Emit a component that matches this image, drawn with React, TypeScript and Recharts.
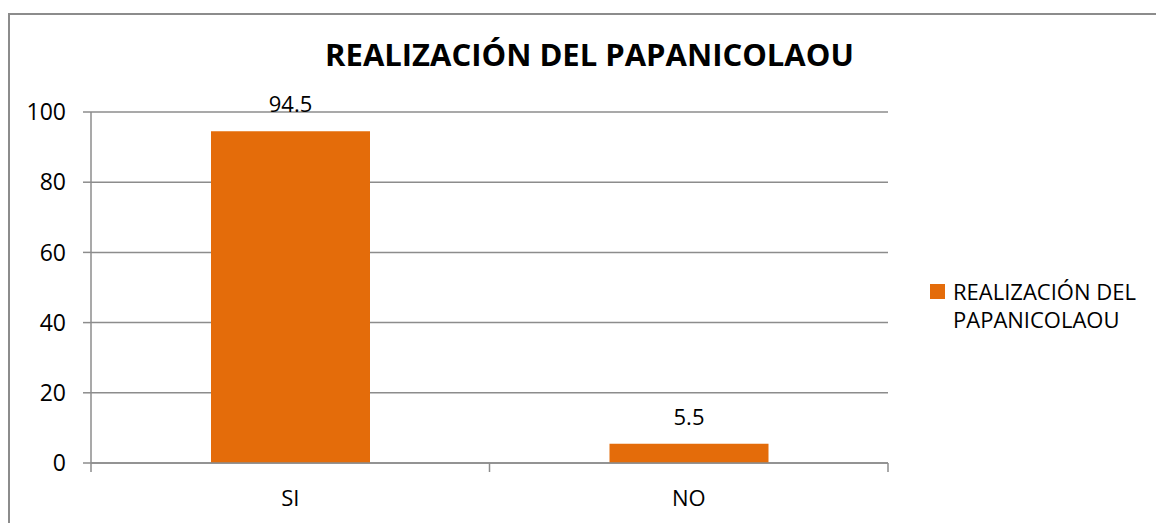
import React from 'react';
import { BarChart, Bar, XAxis, YAxis, CartesianGrid, LabelList } from 'recharts';

const categories = ['SI', 'NO'];
const values = [94.5, 5.5];
const yTicks = [0, 20, 40, 60, 80, 100];
const seriesName = 'REALIZACIÓN DEL PAPANICOLAOU';
const legendLines = ['REALIZACIÓN DEL', 'PAPANICOLAOU'];

const data = categories.map((name, i) => ({ name, value: values[i] }));

const FONT = '"Open Sans", "Liberation Sans", sans-serif';
const ORANGE = '#E46C0A';
const GRAY = '#8c8c8c';
const X_TICK_SIZE = 9;
const X_TICK_MARGIN = 14;

// category ticks: label in the middle, tick marks on the band edges (like Excel)
const XTick = (props: any) => {
  const { x, y, payload, index, visibleTicksCount } = props;
  const off = payload?.offset ?? 0;
  const axisY = y - X_TICK_SIZE - X_TICK_MARGIN;
  const isLast = index === visibleTicksCount - 1;
  return (
    <g>
      <line x1={x - off} x2={x - off} y1={axisY} y2={axisY + X_TICK_SIZE} stroke={GRAY} strokeWidth={1.5} />
      {isLast && (
        <line x1={x + off} x2={x + off} y1={axisY} y2={axisY + X_TICK_SIZE} stroke={GRAY} strokeWidth={1.5} />
      )}
      <text x={x} y={y + 20} textAnchor="middle" fill="#000" fontSize={22} fontFamily={FONT}>
        {payload.value}
      </text>
    </g>
  );
};

export default function App() {
  return (
    <div style={{ position: 'absolute', left: 0, top: 0, width: 1156, height: 523, background: '#fff', overflow: 'hidden' }}>
      <div
        style={{
          position: 'absolute',
          left: 8,
          top: 13,
          right: -4,
          bottom: -4,
          borderTop: `2px solid ${GRAY}`,
          borderLeft: `2px solid ${GRAY}`,
        }}
      />
      <div
        style={{
          position: 'absolute',
          left: 0,
          width: 1179,
          top: 39,
          textAlign: 'center',
          fontFamily: FONT,
          fontWeight: 700,
          fontSize: 31,
          lineHeight: 1,
          color: '#000',
        }}
      >
        {seriesName}
      </div>
      <div style={{ position: 'absolute', left: 0, top: 0 }}>
        <BarChart width={1156} height={523} data={data} margin={{ top: 112, right: 268, bottom: 0, left: 0 }}>
          <CartesianGrid vertical={false} stroke={GRAY} strokeWidth={1.5} />
          <XAxis
            dataKey="name"
            height={60}
            axisLine={{ stroke: GRAY, strokeWidth: 1.5 }}
            tickLine={false}
            tickSize={X_TICK_SIZE}
            tickMargin={X_TICK_MARGIN}
            tick={<XTick />}
            interval={0}
          />
          <YAxis
            width={91}
            domain={[0, 100]}
            ticks={yTicks}
            interval={0}
            axisLine={{ stroke: GRAY, strokeWidth: 1.5 }}
            tickLine={{ stroke: GRAY, strokeWidth: 1.5 }}
            tickSize={8}
            tickMargin={17}
            tick={{ fill: '#000', fontSize: 23, fontFamily: FONT }}
          />
          <Bar dataKey="value" name={seriesName} fill={ORANGE} barSize={159} isAnimationActive={false}>
            <LabelList dataKey="value" position="top" offset={19} fill="#000" fontSize={22} fontFamily={FONT} />
          </Bar>
        </BarChart>
      </div>
      {/* legend */}
      <div
        style={{
          position: 'absolute',
          left: 930,
          top: 277,
          display: 'flex',
          alignItems: 'flex-start',
          fontFamily: FONT,
          fontSize: 22,
          color: '#000',
        }}
      >
        <div style={{ width: 15, height: 15, background: ORANGE, marginTop: 7, marginRight: 8, flexShrink: 0 }} />
        <div style={{ lineHeight: '28px' }}>
          {legendLines.map((l) => (
            <div key={l}>{l}</div>
          ))}
        </div>
      </div>
    </div>
  );
}
